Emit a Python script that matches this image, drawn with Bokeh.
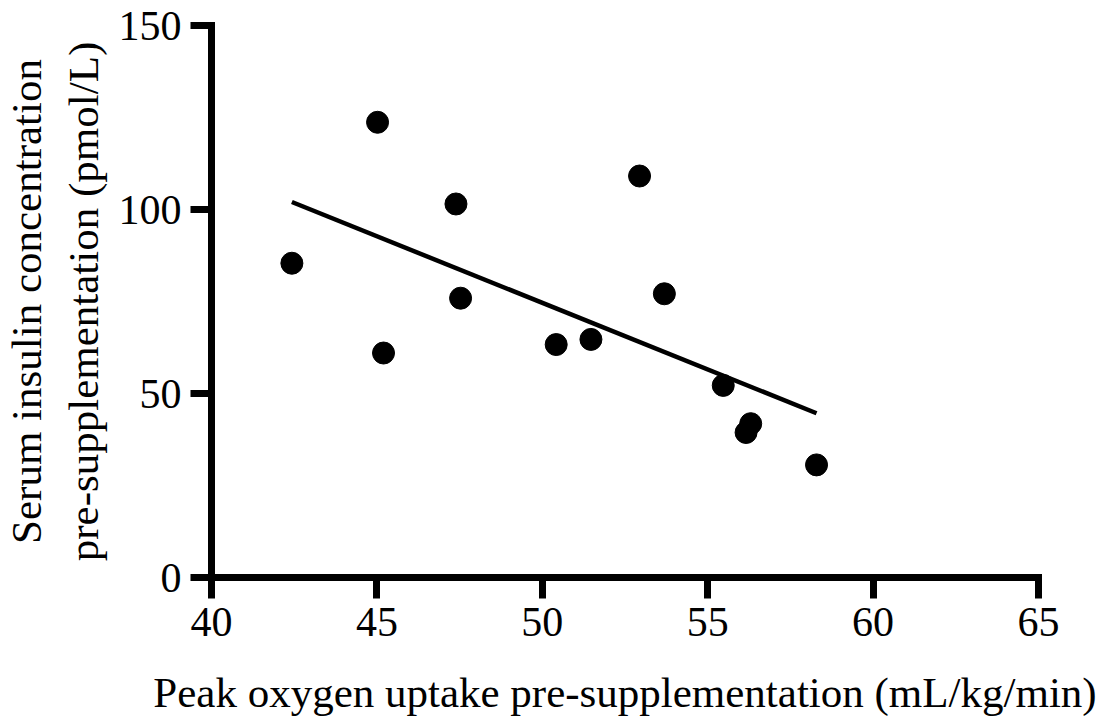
import numpy as np
from bokeh.plotting import figure
from bokeh.models import Range1d, FixedTicker
from bokeh.embed import file_html
from bokeh.resources import INLINE

# Data
vo2_peak = [42.43, 45.02, 45.20, 47.39, 47.53, 50.42, 51.47, 52.94, 53.69, 55.47, 56.16, 56.30, 58.29]
insulin = [85.4, 123.7, 61.0, 101.5, 75.9, 63.3, 64.7, 109.1, 77.1, 52.2, 39.4, 41.8, 30.6]
x_ticks = [40, 45, 50, 55, 60, 65]
y_ticks = [0, 50, 100, 150]
x_title = "Peak oxygen uptake pre-supplementation (mL/kg/min)"
y_title = "Serum insulin concentration\npre-supplementation (pmol/L)"

FONT = "Liberation Serif"

p = figure(width=1101, height=718, output_backend="svg", toolbar_location=None,
           x_range=Range1d(40, 65), y_range=Range1d(0, 150),
           min_border_left=211, min_border_right=63, min_border_top=25, min_border_bottom=140)
p.outline_line_color = None
p.grid.visible = False
p.background_fill_color = "white"

# regression line computed from the data
slope, intercept = np.polyfit(vo2_peak, insulin, 1)
lx = [min(vo2_peak), max(vo2_peak)]
ly = [slope * v + intercept for v in lx]
p.line(lx, ly, line_color="black", line_width=4.5)

p.scatter(vo2_peak, insulin, size=22, fill_color="black", line_color="black")

for ax in (p.xaxis[0], p.yaxis[0]):
    ax.axis_line_width = 7
    ax.axis_line_cap = "square"
    ax.major_tick_line_width = 7
    ax.major_tick_out = 21
    ax.major_tick_in = 0
    ax.minor_tick_line_color = None
    ax.major_label_text_font = FONT
    ax.major_label_text_font_size = "42px"
    ax.major_label_text_color = "black"
    ax.axis_label_text_font = FONT
    ax.axis_label_text_font_size = "43px"
    ax.axis_label_text_font_style = "normal"
    ax.axis_label_text_color = "black"

p.xaxis.ticker = FixedTicker(ticks=x_ticks)
p.yaxis.ticker = FixedTicker(ticks=y_ticks)
p.xaxis.major_label_standoff = 9
p.yaxis.major_label_standoff = 9
p.xaxis.axis_label = x_title
p.yaxis.axis_label = y_title
p.xaxis.axis_label_standoff = 30
p.yaxis.axis_label_standoff = 9

open("out.html", "w").write(file_html(p, INLINE))
